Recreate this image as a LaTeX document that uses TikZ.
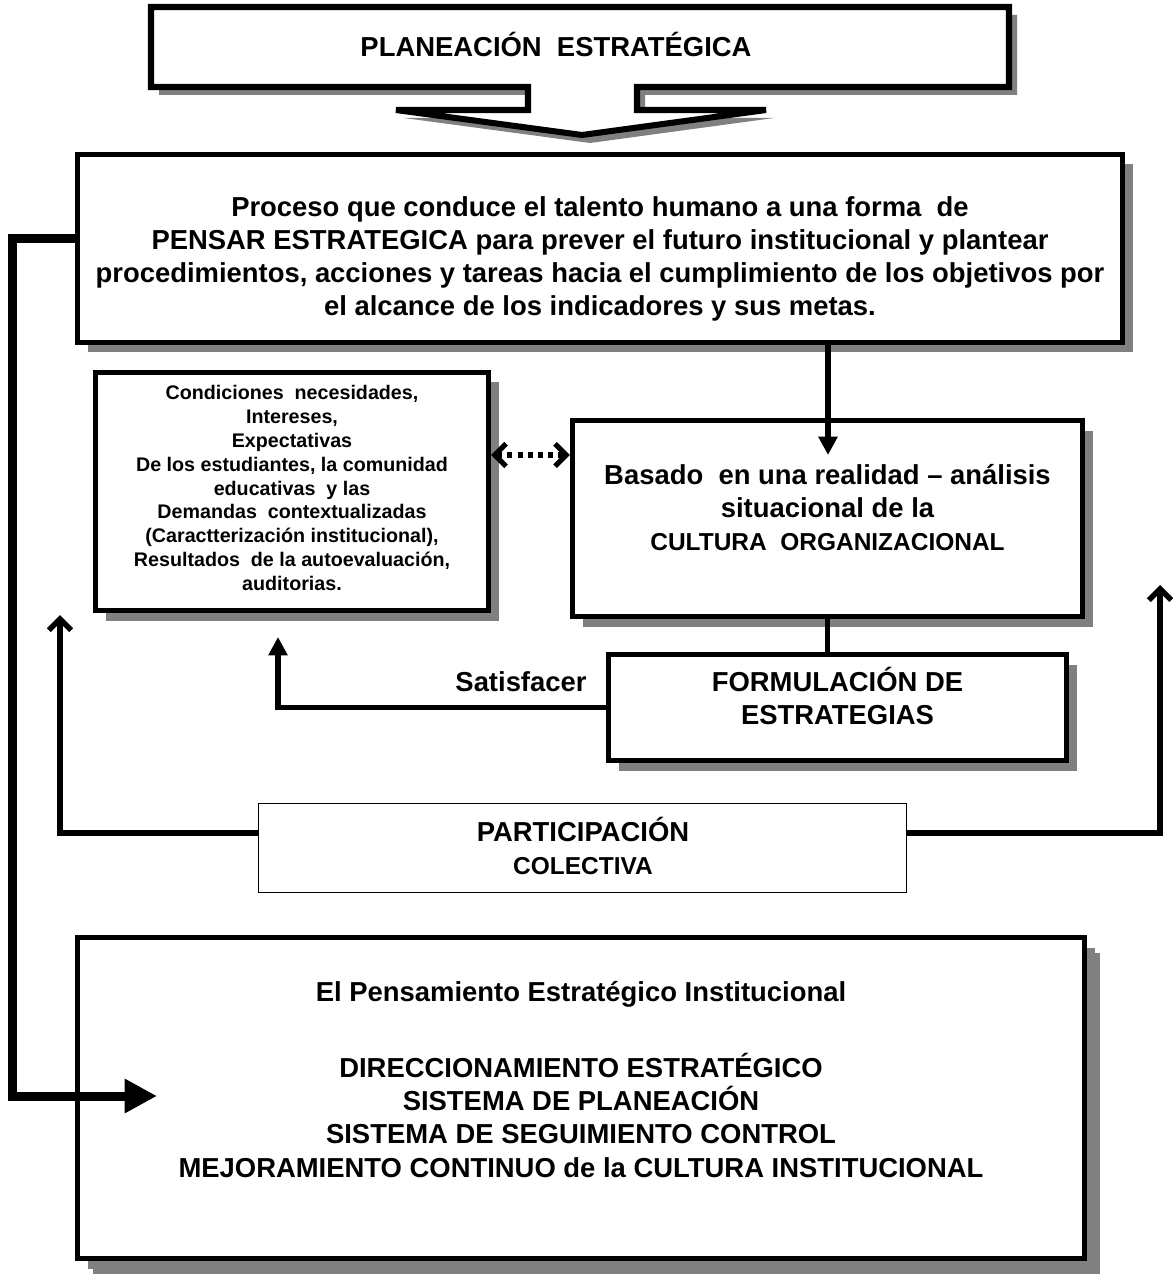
\documentclass[tikz,border=0pt]{standalone}
\usepackage{fontspec}
\setmainfont{Liberation Sans}
\usetikzlibrary{arrows.meta, shadows}
\def\pxl{0.025cm}
\newcommand{\bigfont}{\fontsize{19.5}{23.5}\selectfont\bfseries}
\newcommand{\midfont}{\fontsize{17.4}{23}\selectfont\bfseries}
\newcommand{\smallfont}{\fontsize{14}{17}\selectfont\bfseries}

\begin{document}
\begin{tikzpicture}[
    x=\pxl, y=-\pxl,
    >={Triangle[length=13pt,width=13pt]},
    box/.style={draw, line width=3.8pt, fill=white, inner sep=0pt,
        drop shadow={shadow xshift=10*\pxl, shadow yshift=-10*\pxl, fill=black!50, opacity=1}},
    txt/.style={align=center, inner sep=0pt},
    link/.style={line width=3.9pt},
    barb/.style={-{Straight Barb[length=8pt,width=16pt]}}
]
\useasboundingbox (0,0) rectangle (1172,1279);

% callout arrow on top
\draw[line width=4.3pt, fill=white, drop shadow={shadow xshift=8*\pxl, shadow yshift=-8*\pxl, fill=black!50, opacity=1}]
    (151,7) -- (1009,7) -- (1009,87) -- (637,87) -- (637,110) -- (766,110)
    -- (582,135) -- (396,110) -- (528,110) -- (528,87) -- (151,87) -- cycle;
\node[txt, font=\bigfont] (plan) at (556,44) {PLANEACIÓN\ \ ESTRATÉGICA};

% boxes
\node[box, minimum width=1045*\pxl, minimum height=188*\pxl] (proc) at (600,248.5) {};
\node[txt, font=\bigfont] (procTxt) at (600,259) {Proceso que conduce el talento humano a una forma\ \ de\\
    PENSAR ESTRATEGICA para prever el futuro institucional y plantear\\
    procedimientos, acciones y tareas hacia el cumplimiento de los objetivos por\\
    el alcance de los indicadores y sus metas.};

\node[box, minimum width=393*\pxl, minimum height=238*\pxl] (needs) at (292,491.5) {};
\node[txt, font=\smallfont] (needsTxt) at (292,488) {Condiciones\ \ necesidades,\\
    Intereses,\\
    Expectativas\\
    De los estudiantes, la comunidad\\
    educativas\ \ y las\\
    Demandas\ \ contextualizadas\\
    (Caractterización institucional),\\
    Resultados\ \ de la autoevaluación,\\
    auditorias.};

\node[box, minimum width=510*\pxl, minimum height=196*\pxl] (base) at (827.5,518.5) {};
\node[txt, font=\bigfont] (baseTxt) at (827.5,507.5) {Basado\ \ en una realidad -- análisis\\
    situacional de la\\
    \midfont CULTURA\ \ ORGANIZACIONAL};

\node[box, minimum width=458*\pxl, minimum height=106*\pxl] (form) at (837.5,707.5) {};
\node[txt, font=\bigfont] (formTxt) at (837.5,696) {FORMULACIÓN DE\\ ESTRATEGIAS};

\node[draw, line width=1pt, fill=white, minimum width=648*\pxl, minimum height=89*\pxl] (part) at (582.5,848) {};
\node[txt, font=\bigfont] (partTxt) at (583,846) {PARTICIPACIÓN\\ \midfont COLECTIVA};

\node[box, minimum width=1007*\pxl, minimum height=321*\pxl,
    drop shadow={shadow xshift=15*\pxl, shadow yshift=-15*\pxl, fill=black!50, opacity=1}] (pens) at (581,1098) {};
\node[txt, font=\bigfont] (pensTxt) at (581,1079.5) {El Pensamiento Estratégico Institucional\\[30.6pt]
    DIRECCIONAMIENTO ESTRATÉGICO\\
    SISTEMA DE PLANEACIÓN\\
    SISTEMA DE SEGUIMIENTO CONTROL\\
    MEJORAMIENTO CONTINUO de la CULTURA INSTITUCIONAL};

% connectors
\coordinate (baseIn) at (828,455);
\coordinate (satTip) at (278,637);
\coordinate (partLTip) at (60,615);
\coordinate (partRTip) at (1160,585);
\coordinate (fbLeft) at (12,1096);
\coordinate (fbTip) at (157,1096);

\draw[link, ->] (proc.south -| baseIn) -- (baseIn);
\draw[line width=3.6pt, dash pattern=on 3.6pt off 3.6pt,
    {Straight Barb[length=8pt,width=16pt]}-{Straight Barb[length=8pt,width=16pt]}]
    (needs.east |- baseIn) -- (base.west |- baseIn);
\draw[link] (base.south) -- (base.south |- form.north);
\draw[link, ->] (form.west) -| (satTip);
\node[txt, font=\bigfont] (satLbl) at (521,682) {Satisfacer};
\draw[link, barb] ([yshift=15*\pxl]part.west) -| (partLTip);
\draw[link, barb] ([yshift=15*\pxl]part.east) -| (partRTip);
\draw[line width=6.4pt, -{Triangle[length=23pt,width=23pt]}]
    ([yshift=9.5*\pxl]proc.west) -| (fbLeft) -- (fbTip);
\end{tikzpicture}
\end{document}
